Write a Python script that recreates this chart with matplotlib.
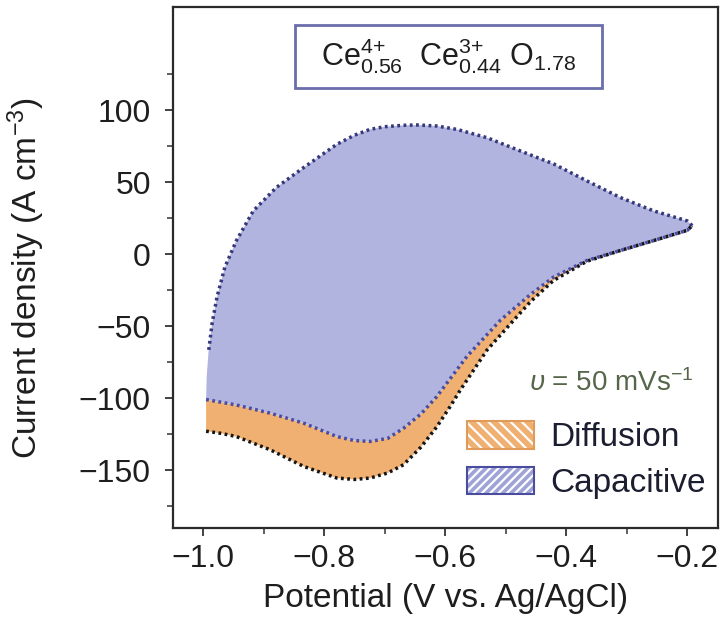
import numpy as np
import matplotlib
matplotlib.use("Agg")
import matplotlib.pyplot as plt
from matplotlib.patches import Patch, Rectangle
from matplotlib.legend_handler import HandlerTuple
from matplotlib.ticker import MultipleLocator, FixedLocator

plt.rcParams['font.family'] = ['Liberation Sans', 'DejaVu Sans']
plt.rcParams['mathtext.fontset'] = 'custom'
plt.rcParams['mathtext.rm'] = 'Liberation Sans'
plt.rcParams['mathtext.it'] = 'Liberation Sans:italic'
plt.rcParams['mathtext.bf'] = 'Liberation Sans:bold'
plt.rcParams['hatch.linewidth'] = 1.6

# ---- data ----
# return (anodic -> cathodic) upper branch, shared by total and capacitive
x_upper = [-0.192, -0.200, -0.256, -0.311, -0.366, -0.421, -0.476, -0.531, -0.580,
           -0.614, -0.645, -0.669, -0.700, -0.724, -0.750, -0.779, -0.834, -0.879, -0.917,
           -0.945, -0.964, -0.977, -0.985, -0.991, -0.994, -0.995]
y_upper = [19.7, 23.0, 30.0, 39.3, 50.8, 62.6, 71.6, 80.8, 86.5,
           88.9, 89.6, 89.4, 88.4, 86.6, 82.5, 76.2, 60.0, 46.2, 30.0,
           9.3, -9.1, -29.9, -48.0, -68.0, -85.0, -101.0]

# forward lower branch of the total current
x_total = [-0.995, -0.970, -0.945, -0.889, -0.834, -0.779, -0.750, -0.724, -0.695, -0.669,
           -0.640, -0.614, -0.592, -0.575, -0.531, -0.487, -0.459, -0.421, -0.366,
           -0.311, -0.256, -0.200, -0.192]
y_total = [-123.0, -124.5, -126.7, -135.9, -147.4, -155.5, -156.5, -155.5, -152.0, -146.3,
           -134.0, -120.0, -106.0, -94.4, -66.7, -46.0, -33.0, -18.3, -5.0,
           2.4, 9.3, 16.5, 19.7]

# forward lower branch of the capacitive contribution
x_cap = [-0.995, -0.945, -0.889, -0.834, -0.779, -0.750, -0.724, -0.695, -0.669, -0.640,
         -0.614, -0.564, -0.509, -0.459, -0.421, -0.366, -0.311, -0.256, -0.200, -0.192]
y_cap = [-101.0, -104.8, -110.5, -117.4, -126.7, -129.5, -130.1, -128.0, -121.0, -111.0,
         -99.0, -71.0, -46.0, -28.0, -16.0, -4.5, 2.4, 9.3, 16.5, 19.7]

x_ticks = [-1.0, -0.8, -0.6, -0.4, -0.2]
y_ticks = [-150, -100, -50, 0, 50, 100]
y_minor = [-175, -125, -75, -25, 25, 75, 125]
legend_labels = ['Diffusion', 'Capacitive']
formula = r'Ce$^{4{+}}_{0.56}$  Ce$^{3{+}}_{0.44}$ O$_{1.78}$'
rate_text = r'$\upsilon$ = 50 mVs$^{-1}$'

c_blue = '#b1b4df'
c_orange = '#f0b072'
c_navy = '#35387a'

fig = plt.figure(figsize=(7.24, 6.26), dpi=100)
ax = fig.add_axes([0.239, 0.157, 0.753, 0.832])

# fills
ax.fill(np.concatenate([x_total, x_cap[::-1]]), np.concatenate([y_total, y_cap[::-1]]),
        facecolor=c_orange, edgecolor='none', zorder=1)
ax.fill(np.concatenate([x_cap, x_upper]), np.concatenate([y_cap, y_upper]),
        facecolor=c_blue, edgecolor='none', zorder=1)

# dotted outlines
dot = (0, (0.8, 1.0))
ax.plot(x_total, y_total, color='#151515', lw=2.5, ls=dot, zorder=3)
ax.plot(x_cap, y_cap, color='#4a4ca0', lw=2.5, ls=dot, zorder=3)
ax.plot(x_upper[:-2], y_upper[:-2], color=c_navy, lw=2.5, ls=dot, zorder=3)

ax.set_xlim(-1.0496, -0.149)
ax.set_ylim(-190, 171.6)
ax.set_xticks(x_ticks)
ax.set_yticks(y_ticks)
ax.xaxis.set_minor_locator(MultipleLocator(0.1))
ax.yaxis.set_minor_locator(FixedLocator(y_minor))
ax.set_xticklabels([f'{v:.1f}'.replace('-', '\u2212') for v in x_ticks])
ax.tick_params(which='major', direction='out', length=6, width=1.3, labelsize=23,
               colors='#333333', labelcolor='#1e1e1e')
ax.tick_params(which='minor', direction='out', length=4, width=1.1, colors='#333333')
ax.tick_params(axis='y', which='major', pad=10)
ax.tick_params(axis='x', which='major', pad=6)
for s in ax.spines.values():
    s.set_linewidth(1.6)
    s.set_color('#2a2a2a')

ax.set_xlabel('Potential (V vs. Ag/AgCl)', fontsize=24, color='#1e1e1e', labelpad=6)
ax.set_ylabel('Current density (A cm$^{-3}$)', fontsize=24, color='#1e1e1e')
ax.yaxis.set_label_coords(-0.232, 0.48)

# formula box
ax.add_patch(Rectangle((0.224, 0.845), 0.563, 0.121, transform=ax.transAxes,
                       facecolor='white', edgecolor='#6a6eaa', lw=2.0, zorder=4))
ax.text(0.505, 0.905, formula, transform=ax.transAxes, ha='center', va='center',
        fontsize=22, color='#1e1e1e', zorder=5)

ax.text(0.954, 0.278, rate_text, transform=ax.transAxes, ha='right', va='center',
        fontsize=20, color='#55664a')

# legend
h_diff = (Patch(facecolor=c_orange, edgecolor='white', hatch='\\\\\\', lw=0),
          Patch(facecolor='none', edgecolor='#e09a5a', lw=1.5))
h_cap = (Patch(facecolor='#9fa3d8', edgecolor='white', hatch='////', lw=0),
         Patch(facecolor='none', edgecolor='#4a4ca0', lw=1.5))
leg = ax.legend([h_diff, h_cap], legend_labels, handler_map={tuple: HandlerTuple(ndivide=1, pad=0)},
                loc='upper left', bbox_to_anchor=(467 / 724, 1 - 421 / 626),
                bbox_transform=fig.transFigure, frameon=False, fontsize=24,
                borderpad=0, borderaxespad=0, handlelength=2.0, handleheight=0.9,
                handletextpad=0.5, labelspacing=0.4)
for t in leg.get_texts():
    t.set_color('#1b1d30')

fig.savefig('out.png', dpi=100)
